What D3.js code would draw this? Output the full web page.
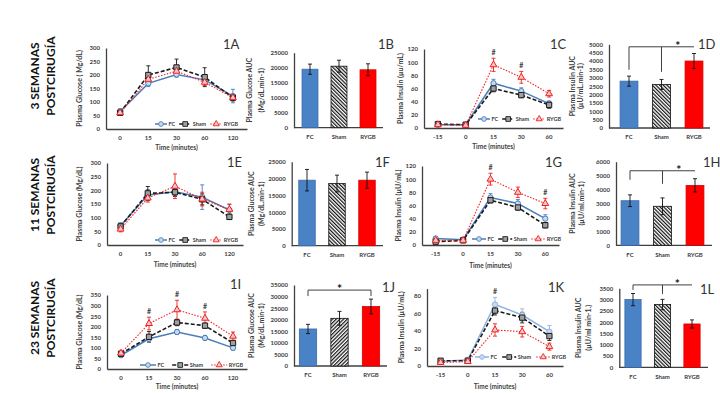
<!DOCTYPE html>
<html>
<head>
<meta charset="utf-8">
<script src="https://cdn.jsdelivr.net/npm/d3@7/dist/d3.min.js"></script>
<style>
  body { margin: 0; background: #fff; }
  svg { font-family: Lato, 'Open Sans', sans-serif; }
</style>
</head>
<body>
<div id="chart"></div>
<script>
const groups = ['FC', 'Sham', 'RYGB'];
const timesGlu = ['0', '15', '30', '60', '120'];
const timesIns = ['-15', '0', '15', '30', '60'];

// 3 semanas
const glu3FC = [65, 169, 202, 182, 122];
const glu3Sham = [60, 200, 228, 192, 116];
const glu3RYGB = [60, 184, 214, 173, 116];
const glu3FCErr = [10, 12, 10, 15, 25];
const glu3ShamErr = [10, 34, 31, 35, 12];
const glu3RYGBErr = [8, 20, 15, 12, 10];
const aucGlu3 = [19500, 20500, 19300];
const aucGlu3Err = [1700, 2000, 2000];
const ins3FC = [5, 5, 68, 56, 37];
const ins3Sham = [6, 5, 60, 50, 35];
const ins3RYGB = [5, 4, 96, 77, 52];
const ins3FCErr = [2, 2, 6, 5, 4];
const ins3ShamErr = [2, 2, 5, 4, 5];
const ins3RYGBErr = [2, 2, 10, 9, 5];
const aucIns3 = [2800, 2600, 4000];
const aucIns3Err = [300, 300, 450];

// 11 semanas
const glu11FC = [70, 183, 195, 175, 128];
const glu11Sham = [68, 189, 193, 167, 103];
const glu11RYGB = [58, 172, 215, 168, 130];
const glu11FCErr = [10, 20, 15, 45, 20];
const glu11ShamErr = [12, 25, 15, 20, 10];
const glu11RYGBErr = [10, 15, 45, 25, 20];
const aucGlu11 = [19500, 18500, 19500];
const aucGlu11Err = [3200, 2500, 2400];
const ins11FC = [10, 8, 72, 63, 40];
const ins11Sham = [5, 7, 68, 57, 30];
const ins11RYGB = [7, 7, 100, 80, 63];
const ins11FCErr = [2, 2, 6, 6, 6];
const ins11ShamErr = [2, 2, 4, 4, 4];
const ins11RYGBErr = [2, 2, 9, 8, 8];
const aucIns11 = [3200, 2800, 4300];
const aucIns11Err = [420, 600, 480];

// 23 semanas
const glu23FC = [65, 143, 175, 147, 100];
const glu23Sham = [72, 152, 220, 205, 123];
const glu23RYGB = [75, 215, 280, 240, 155];
const glu23FCErr = [8, 10, 12, 12, 10];
const glu23ShamErr = [8, 25, 15, 12, 12];
const glu23RYGBErr = [10, 30, 45, 30, 20];
const aucGlu23 = [16000, 20600, 25700];
const aucGlu23Err = [2000, 3000, 3200];
const ins23FC = [5, 7, 70, 58, 39];
const ins23Sham = [6, 6, 63, 55, 34];
const ins23RYGB = [4, 5, 41, 39, 22];
const ins23FCErr = [2, 2, 8, 7, 7];
const ins23ShamErr = [2, 2, 5, 6, 5];
const ins23RYGBErr = [2, 2, 7, 6, 4];
const aucIns23 = [3000, 2780, 1920];
const aucIns23Err = [270, 230, 180];

const rowLabels = [['3  SEMANAS', 'POSTCIRUGÍA'], ['11  SEMANAS', 'POSTCIRUGÍA'], ['23 SEMANAS', 'POSTCIRUGÍA']];

const AXIS = '#404040';
const lineStyles = [
  { color: '#4a7ebb', dash: null, width: 1.5, sym: d3.symbolCircle, size: 22, fill: '#c9d8ee' },
  { color: '#1a1a1a', dash: '4,2', width: 1.6, sym: d3.symbolSquare, size: 28, fill: '#a0a0a0' },
  { color: '#f02020', dash: '1.5,1.5', width: 1.1, sym: d3.symbolTriangle, size: 20, fill: '#f8c8c8' },
];

const svg = d3.select('#chart').append('svg').attr('width', 720).attr('height', 393);

const defs = svg.append('defs');
[['hatchA', 45], ['hatchB', -45]].forEach(([id, ang]) => {
  const pat = defs.append('pattern').attr('id', id).attr('patternUnits', 'userSpaceOnUse')
    .attr('width', 2.6).attr('height', 2.6).attr('patternTransform', `rotate(${ang})`);
  pat.append('rect').attr('width', 2.6).attr('height', 2.6).attr('fill', '#fff');
  pat.append('rect').attr('width', 1.2).attr('height', 2.6).attr('fill', '#111');
});

const styleAxis = (sel) => {
  sel.select('.domain').attr('stroke', AXIS).attr('stroke-width', 1.3);
  sel.selectAll('text').attr('fill', AXIS).attr('font-size', 6).attr('font-weight', 700)
    .attr('font-family', 'Lato, sans-serif');
};

const yTitle = (g, lines, xs, cy) => {
  lines.forEach((t, i) => {
    g.append('text').attr('transform', `translate(${xs[i]},${cy}) rotate(-90)`)
      .attr('text-anchor', 'middle').attr('dy', '0.35em')
      .attr('font-size', 7).attr('font-weight', 700).attr('fill', AXIS).text(t);
  });
};

const errBar = (g, x, y0, y1, color, w) => {
  g.append('line').attr('x1', x).attr('x2', x).attr('y1', y0).attr('y2', y1)
    .attr('stroke', color).attr('stroke-width', w);
  [y0, y1].forEach((yy) => {
    g.append('line').attr('x1', x - 2).attr('x2', x + 2).attr('y1', yy).attr('y2', yy)
      .attr('stroke', color).attr('stroke-width', w);
  });
};

// paneles de curvas
const linePanels = [
  { times: timesGlu, vals: [glu3FC, glu3Sham, glu3RYGB], errs: [glu3FCErr, glu3ShamErr, glu3RYGBErr],
    x0: 106, x1: 247, yTop: 48, yBot: 129, yMax: 300, step: 50, title: 'Plasma Glucose ( Mg/dL)', tx: 80, xt: 148,
    hash: [], hashSeries: 2, leg: { x: 155, y: 124, len: 12, gap: 4 } },
  { times: timesIns, vals: [ins3FC, ins3Sham, ins3RYGB], errs: [ins3FCErr, ins3ShamErr, ins3RYGBErr],
    x0: 424, x1: 563, yTop: 49, yBot: 128, yMax: 120, step: 20, title: 'Plasma Insulin (µu/mL)', tx: 401, xt: 147,
    hash: [2, 3], hashSeries: 2, leg: { x: 478, y: 119, len: 12, gap: 4 } },
  { times: timesGlu, vals: [glu11FC, glu11Sham, glu11RYGB], errs: [glu11FCErr, glu11ShamErr, glu11RYGBErr],
    x0: 107, x1: 243, yTop: 163, yBot: 245, yMax: 300, step: 50, title: 'Plasma Glucose (Mg/dL)', tx: 80, xt: 265,
    hash: [], hashSeries: 2, leg: { x: 155, y: 240, len: 12, gap: 4 } },
  { times: timesIns, vals: [ins11FC, ins11Sham, ins11RYGB], errs: [ins11FCErr, ins11ShamErr, ins11RYGBErr],
    x0: 422, x1: 559, yTop: 166, yBot: 245, yMax: 120, step: 20, title: 'Plasma Insulin (µU/mL)', tx: 399, xt: 266,
    hash: [2, 4], hashSeries: 2, leg: { x: 472, y: 239, len: 14, gap: 4 } },
  { times: timesGlu, vals: [glu23FC, glu23Sham, glu23RYGB], errs: [glu23FCErr, glu23ShamErr, glu23RYGBErr],
    x0: 107, x1: 247, yTop: 295, yBot: 369, yMax: 350, step: 50, title: 'Plasma Glucose  (Mg/dL)', tx: 80, xt: 387,
    hash: [1, 2, 3], hashSeries: 2, leg: { x: 140, y: 365, len: 16, gap: 8 } },
  { times: timesIns, vals: [ins23FC, ins23Sham, ins23RYGB], errs: [ins23FCErr, ins23ShamErr, ins23RYGBErr],
    x0: 427, x1: 563, yTop: 288.6, yBot: 366, yMax: 88, step: 20, title: 'Plasma Insulin (µU/mL)', tx: 402, xt: 387,
    hash: [2], hashSeries: 0, fcColor: '#8db3e2', leg: { x: 475, y: 357, len: 14, gap: 5 } },
];

// paneles de barras
const barPanels = [
  { vals: aucGlu3, errs: aucGlu3Err, ax: 294, ax1: 383, b0: 295.5, b1: 382.5, yTop: 52.7, yBot: 127.7, yMax: 25000, step: 5000,
    title: ['Plasma Glucose AUC', '(Mg/dL.min-1)'], tx: [250, 262], hatch: 'hatchB' },
  { vals: aucIns3, errs: aucIns3Err, ax: 609, ax1: 710, b0: 612.75, b1: 710.25, yTop: 44.3, yBot: 128, yMax: 5000, step: 500,
    title: ['Plasma Insulin AUC', '(µU/mL.min-1)'], tx: [573, 581], hatch: 'hatchB',
    bracket: { level: 4850, drops: [[0, 23], [1, 25]], star: [1, 2] } },
  { vals: aucGlu11, errs: aucGlu11Err, ax: 291.7, ax1: 383, b0: 292, b1: 382, yTop: 161.7, yBot: 245.7, yMax: 25000, step: 5000,
    title: ['Plasma Glucose AUC', '(Mg/dL.min-1)'], tx: [252, 262], hatch: 'hatchB' },
  { vals: aucIns11, errs: aucIns11Err, ax: 616, ax1: 712, b0: 613.75, b1: 711.25, yTop: 161.7, yBot: 245.3, yMax: 6000, step: 1000,
    title: ['Plasma Insulin AUC', '(µU/ml.min-1)'], tx: [573, 582], hatch: 'hatchB',
    bracket: { level: 5350, drops: [[0, 9], [1, 13]], star: [1, 2] } },
  { vals: aucGlu23, errs: aucGlu23Err, ax: 294, ax1: 387, b0: 292.25, b1: 386.75, yTop: 285, yBot: 366, yMax: 35000, step: 5000,
    title: ['Plasma Glucose AUC', '(Mg/dL.min-1)'], tx: [252, 262], hatch: 'hatchA',
    bracket: { level: 32800, drops: [[0, 6], [2, 6]], star: [0, 2] } },
  { vals: aucIns23, errs: aucIns23Err, ax: 619.3, ax1: 708, b0: 618.25, b1: 706.75, yTop: 288.3, yBot: 367.3, yMax: 3500, step: 500,
    title: ['Plasma Insulin AUC', '(µU/ml min-1.)'], tx: [579, 589], hatch: 'hatchB',
    bracket: { level: 3650, drops: [[0, 5], [1, 9]], star: [1, 2] } },
];

linePanels.forEach((p) => {
  const g = svg.append('g');
  const x = d3.scaleBand().domain(p.times).range([p.x0, p.x1]);
  const y = d3.scaleLinear().domain([0, p.yMax]).range([p.yBot, p.yTop]);
  const cx = (t) => x(t) + x.bandwidth() / 2;

  g.append('g').attr('transform', `translate(${p.x0},0)`)
    .call(d3.axisLeft(y).tickValues(d3.range(0, p.yMax + 1, p.step)).tickFormat(d3.format('d'))
      .tickSize(0).tickSizeOuter(0).tickPadding(6))
    .call(styleAxis);
  g.append('g').attr('transform', `translate(0,${p.yBot})`)
    .call(d3.axisBottom(x).tickSize(0).tickSizeOuter(0).tickPadding(7))
    .call(styleAxis);

  yTitle(g, [p.title], [p.tx], (p.yTop + p.yBot) / 2);
  g.append('text').attr('x', (p.x0 + p.x1) / 2).attr('y', p.xt).attr('dy', '0.35em')
    .attr('text-anchor', 'middle').attr('font-size', 6.5).attr('font-weight', 700).attr('fill', AXIS)
    .text('Time (minutes)');

  const styles = lineStyles.map((s, i) => (i === 0 && p.fcColor ? { ...s, color: p.fcColor } : s));

  p.vals.forEach((vals, si) => {
    const s = styles[si];
    vals.forEach((v, i) => errBar(g, cx(p.times[i]), y(v - p.errs[si][i]), y(v + p.errs[si][i]), s.color, 0.9));
  });
  p.vals.forEach((vals, si) => {
    const s = styles[si];
    const line = d3.line().x((d, i) => cx(p.times[i])).y((d) => y(d));
    g.append('path').datum(vals).attr('d', line).attr('fill', 'none')
      .attr('stroke', s.color).attr('stroke-width', s.width).attr('stroke-dasharray', s.dash);
  });
  p.vals.forEach((vals, si) => {
    const s = styles[si];
    g.selectAll(null).data(vals).enter().append('path')
      .attr('d', d3.symbol().type(s.sym).size(s.size))
      .attr('transform', (d, i) => `translate(${cx(p.times[i])},${y(d)})`)
      .attr('fill', s.fill).attr('stroke', s.color).attr('stroke-width', 1);
  });

  p.hash.forEach((i) => {
    const v = p.vals[p.hashSeries][i] + p.errs[p.hashSeries][i];
    g.append('text').attr('x', cx(p.times[i])).attr('y', y(v) - 3)
      .attr('text-anchor', 'middle').attr('font-size', 7).attr('font-weight', 700).attr('fill', AXIS).text('#');
  });

  // leyenda
  let lx = p.leg.x;
  groups.forEach((name, i) => {
    const s = styles[i];
    g.append('line').attr('x1', lx).attr('x2', lx + p.leg.len).attr('y1', p.leg.y).attr('y2', p.leg.y)
      .attr('stroke', s.color).attr('stroke-width', s.width).attr('stroke-dasharray', s.dash);
    g.append('path').attr('d', d3.symbol().type(s.sym).size(s.size * 0.8))
      .attr('transform', `translate(${lx + p.leg.len / 2},${p.leg.y})`)
      .attr('fill', s.fill).attr('stroke', s.color).attr('stroke-width', 0.9);
    const t = g.append('text').attr('x', lx + p.leg.len + 1.5).attr('y', p.leg.y).attr('dy', '0.35em')
      .attr('font-size', 5.5).attr('font-weight', 700).attr('fill', AXIS).text(name);
    lx += p.leg.len + 1.5 + t.node().getComputedTextLength() + p.leg.gap;
  });
});

barPanels.forEach((p) => {
  const g = svg.append('g');
  const x = d3.scaleBand().domain(groups).range([p.b0, p.b1]).paddingInner(0.45).paddingOuter(0.225);
  const y = d3.scaleLinear().domain([0, p.yMax]).range([p.yBot, p.yTop]);
  const cx = (k) => x(k) + x.bandwidth() / 2;

  g.append('g').attr('transform', `translate(${p.ax},0)`)
    .call(d3.axisLeft(y).tickValues(d3.range(0, p.yMax + 1, p.step)).tickFormat(d3.format('d'))
      .tickSize(0).tickSizeOuter(0).tickPadding(6))
    .call(styleAxis);
  g.append('g').attr('transform', `translate(0,${p.yBot})`)
    .call(d3.axisBottom(x).tickSize(0).tickSizeOuter(0).tickPadding(7))
    .call(styleAxis)
    .call((a) => a.select('.domain').remove());
  g.append('line').attr('x1', p.ax).attr('x2', p.ax1).attr('y1', p.yBot).attr('y2', p.yBot)
    .attr('stroke', AXIS).attr('stroke-width', 1.3);

  yTitle(g, p.title, p.tx, (p.yTop + p.yBot) / 2);

  const fills = ['#4a82c6', `url(#${p.hatch})`, '#ff0000'];
  const strokes = ['#3a6cae', '#111', '#d80000'];
  g.selectAll(null).data(p.vals).enter().append('rect')
    .attr('x', (d, i) => x(groups[i])).attr('width', x.bandwidth())
    .attr('y', (d) => y(d)).attr('height', (d) => p.yBot - y(d))
    .attr('fill', (d, i) => fills[i]).attr('stroke', (d, i) => strokes[i]).attr('stroke-width', 0.8);

  p.vals.forEach((v, i) => errBar(g, cx(groups[i]), y(v - p.errs[i]), y(v + p.errs[i]), '#111', 0.9));

  if (p.bracket) {
    const b = p.bracket;
    const ly = y(b.level);
    g.append('line').attr('x1', cx(groups[0])).attr('x2', cx(groups[2])).attr('y1', ly).attr('y2', ly)
      .attr('stroke', AXIS).attr('stroke-width', 1);
    b.drops.forEach(([i, len]) => {
      g.append('line').attr('x1', cx(groups[i])).attr('x2', cx(groups[i])).attr('y1', ly).attr('y2', ly + len)
        .attr('stroke', AXIS).attr('stroke-width', 1);
    });
    g.append('text').attr('x', (cx(groups[b.star[0]]) + cx(groups[b.star[1]])) / 2).attr('y', ly + 3)
      .attr('text-anchor', 'middle').attr('font-size', 12).attr('font-weight', 700).attr('fill', '#111').text('*');
  }
});

// etiquetas de panel
const panelTags = ['1A', '1B', '1C', '1D', '1E', '1F', '1G', '1H', '1I', '1J', '1K', '1L'];
const tagX = [223, 378, 550, 698, 227, 375, 545, 703, 230, 382, 548, 700];
const tagY = [49, 49, 49, 49, 167, 167, 167, 167, 289, 292, 292, 294];
panelTags.forEach((t, i) => {
  svg.append('text').attr('x', tagX[i]).attr('y', tagY[i]).attr('font-size', 13)
    .attr('fill', '#333').text(t);
});

// etiquetas de fila
const rowCy = [76, 195, 318];
rowLabels.forEach((lines, r) => {
  lines.forEach((t, j) => {
    svg.append('text').attr('transform', `translate(${[35, 51][j]},${rowCy[r]}) rotate(-90)`)
      .attr('text-anchor', 'middle').attr('dy', '0.35em')
      .attr('font-size', 12).attr('font-weight', 700).attr('fill', '#111').text(t);
  });
});
</script>
</body>
</html>
